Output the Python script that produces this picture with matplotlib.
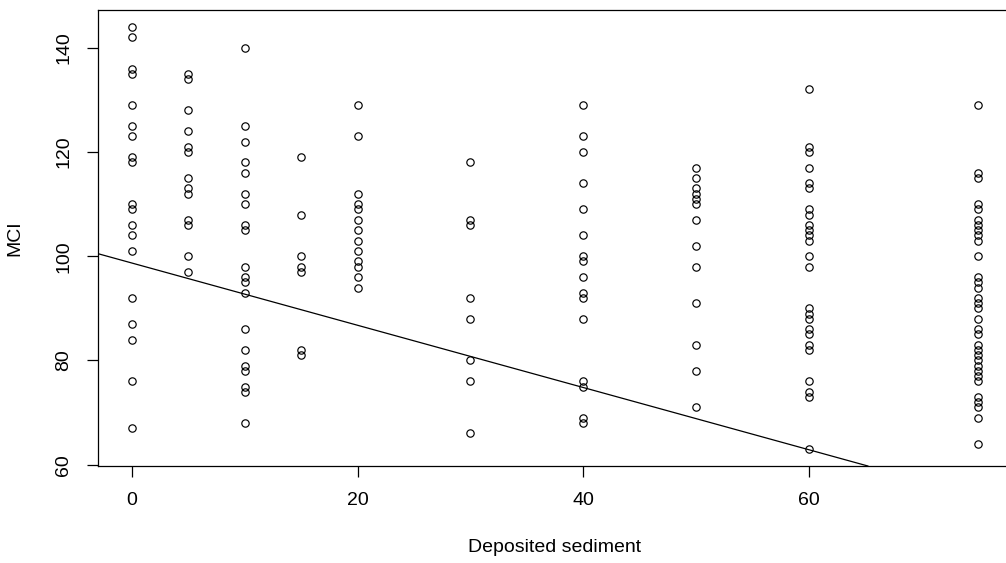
import matplotlib
matplotlib.use("Agg")
import matplotlib.pyplot as plt
import numpy as np

plt.rcParams['font.family'] = ['Liberation Sans', 'DejaVu Sans']

# MCI scores at each deposited-sediment level
sediment_levels = [0, 5, 10, 15, 20, 30, 40, 50, 60, 75]
mci_0 = [144, 142, 136, 135, 129, 125, 123, 119, 118, 110, 109, 106, 104, 101, 92, 87, 84, 76, 67]
mci_5 = [135, 134, 128, 124, 121, 120, 115, 113, 112, 107, 106, 100, 97]
mci_10 = [140, 125, 122, 118, 116, 112, 110, 106, 105, 98, 96, 95, 93, 86, 82, 79, 78, 75, 74, 68]
mci_15 = [119, 108, 100, 98, 97, 82, 81]
mci_20 = [129, 123, 112, 110, 109, 107, 105, 103, 101, 99, 98, 96, 94]
mci_30 = [118, 107, 106, 92, 88, 80, 76, 66]
mci_40 = [129, 123, 120, 114, 109, 104, 100, 99, 96, 93, 92, 88, 76, 75, 69, 68]
mci_50 = [117, 115, 113, 112, 111, 110, 107, 102, 98, 91, 83, 78, 71]
mci_60 = [132, 121, 120, 117, 114, 113, 109, 108, 106, 105, 104, 103, 100, 98,
          90, 89, 88, 86, 85, 83, 82, 76, 74, 73, 63]
mci_75 = [129, 116, 115, 110, 109, 107, 106, 105, 104, 103, 100, 96, 95, 94, 92, 91,
          90, 88, 86, 85, 83, 82, 81, 80, 79, 78, 77, 76, 73, 72, 71, 69, 64]

# fitted line
line_intercept = 98.7
line_slope = -0.597

groups = [mci_0, mci_5, mci_10, mci_15, mci_20, mci_30, mci_40, mci_50, mci_60, mci_75]
sediment = np.concatenate([[lvl] * len(g) for lvl, g in zip(sediment_levels, groups)])
mci = np.concatenate(groups)

W, H = 1006, 563
fig = plt.figure(figsize=(W / 100, H / 100), dpi=100)
ax = fig.add_axes([98 / W, 1 - 466 / H, 914 / W, 456 / H])

ax.plot(sediment, mci, linestyle='none', marker='o', markersize=5.3,
        markerfacecolor='none', markeredgecolor='black', markeredgewidth=0.85)
ax.margins(x=0.04, y=0.04)
ax.axline((0, line_intercept), slope=line_slope, color='black', linewidth=0.9)

ax.set_xticks([0, 20, 40, 60])
ax.set_yticks([60, 80, 100, 120, 140])
for s in ax.spines.values():
    s.set_linewidth(0.9)
ax.tick_params(axis='both', direction='out', length=8, width=0.9, labelsize=14)
ax.tick_params(axis='x', pad=11)
ax.tick_params(axis='y', pad=10.5, labelrotation=90)
plt.setp(ax.get_yticklabels(), va='center')

ax.set_xlabel('Deposited sediment', fontsize=14, labelpad=21)
ax.set_ylabel('MCI', fontsize=14, labelpad=23)

fig.savefig('out.png', dpi=100)
